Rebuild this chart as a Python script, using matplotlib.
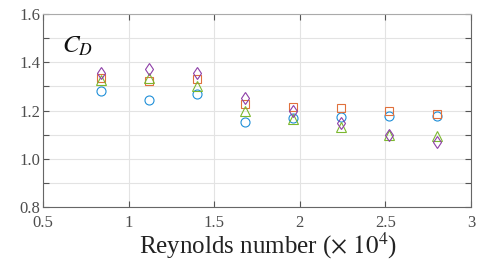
import matplotlib
matplotlib.use("Agg")
import matplotlib.pyplot as plt
from matplotlib.ticker import MultipleLocator

plt.rcParams['font.family'] = ['Liberation Serif', 'DejaVu Serif']
plt.rcParams['mathtext.fontset'] = 'stix'

# Reynolds number (x 10^4)
re = [0.84, 1.12, 1.40, 1.68, 1.96, 2.24, 2.52, 2.80]

# drag coefficient, four cases
cd_circle = [1.282, 1.244, 1.267, 1.153, 1.168, 1.174, 1.177, 1.177]
cd_square = [1.333, 1.322, 1.329, 1.227, 1.213, 1.209, 1.199, 1.184]
cd_triangle = [1.327, 1.335, 1.303, 1.200, 1.163, 1.132, 1.100, 1.095]
cd_diamond = [1.355, 1.373, 1.356, 1.250, 1.200, 1.149, 1.098, 1.068]

xticks = [0.5, 1, 1.5, 2, 2.5, 3]
xticklabels = ['0.5', '1', '1.5', '2', '2.5', '3']
yticks = [0.8, 1.0, 1.2, 1.4, 1.6]
yticklabels = ['0.8', '1.0', '1.2', '1.4', '1.6']

fig = plt.figure(figsize=(4.8, 2.61), dpi=100)
ax = fig.add_axes([0.0896, 0.207, 0.8917, 0.739])

mk = dict(linestyle='none', markerfacecolor='none', markeredgewidth=0.8, markersize=6.5)
ax.plot(re, cd_circle, marker='o', color='#1f8fd8', **mk)
ax.plot(re, cd_square, marker='s', color='#e0703c', markersize=5.5,
        linestyle='none', markerfacecolor='none', markeredgewidth=0.8)
ax.plot(re, cd_triangle, marker='^', color='#7cb82f', **mk)
ax.plot(re, cd_diamond, marker='d', color='#8e3fa8', **mk)

ax.set_xlim(0.5, 3)
ax.set_ylim(0.8, 1.6)
ax.set_xticks(xticks)
ax.set_xticklabels(xticklabels)
ax.set_yticks(yticks)
ax.set_yticklabels(yticklabels)
ax.yaxis.set_minor_locator(MultipleLocator(0.1))

ax.grid(True, which='both', color='#e3e3e3', linewidth=0.8)
ax.set_axisbelow(True)
ax.tick_params(which='both', direction='in', top=True, right=True,
               colors='#555555', labelcolor='#4d4d4d', labelsize=12, length=4, width=0.8)
ax.tick_params(axis='x', pad=6)
ax.tick_params(axis='y', pad=2)
for s in ax.spines.values():
    s.set_color('#666666')
    s.set_linewidth(0.8)
ax.spines['top'].set_color('#aaaaaa')

ax.text(0.045, 0.80, '$C_D$', transform=ax.transAxes, fontsize=18, color='#111111')
ax.set_xlabel('Reynolds number ($\\times\\ 10^4$)', fontsize=18, color='#222222')
ax.xaxis.set_label_coords(0.526, -0.125)

fig.savefig('out.png', dpi=100)
